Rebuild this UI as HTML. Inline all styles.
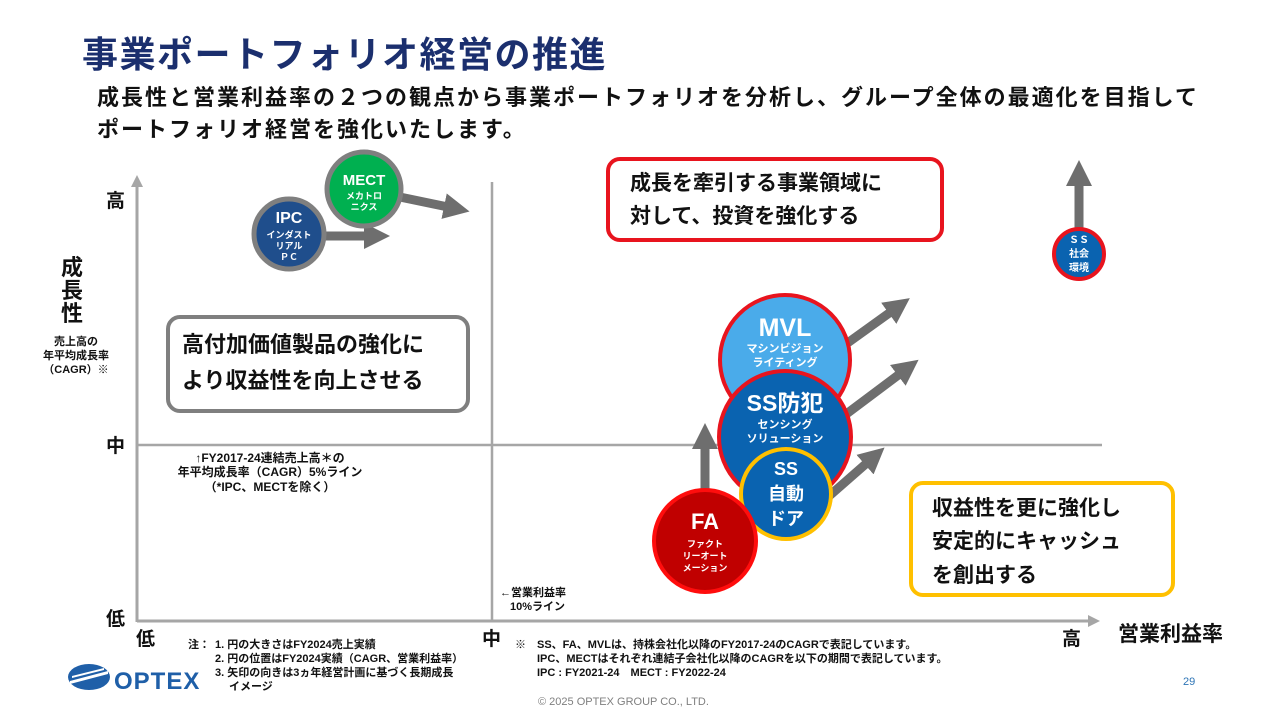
<!DOCTYPE html>
<html><head><meta charset="utf-8"><style>
html,body{margin:0;padding:0;background:#fff;}
svg{display:block;font-family:"Liberation Sans","Noto Sans CJK JP",sans-serif;font-weight:bold;}
</style></head><body>
<svg width="1280" height="720" viewBox="0 0 1280 720" xmlns="http://www.w3.org/2000/svg">
<defs>
<marker id="ah" markerUnits="userSpaceOnUse" markerWidth="26" markerHeight="26" refX="4" refY="13" orient="auto">
<path d="M0,0 L26,13 L0,26 Z" fill="#6e6e6e"/></marker>
<marker id="ax" markerUnits="userSpaceOnUse" markerWidth="12" markerHeight="12" refX="2" refY="6" orient="auto">
<path d="M0,0 L12,6 L0,12 Z" fill="#a6a6a6"/></marker>
</defs>
<text x="82" y="67" font-size="36" letter-spacing="1.5" fill="#1b2f6e">事業ポートフォリオ経営の推進</text>
<text x="97" y="105" font-size="22" letter-spacing="2" fill="#111">成長性と営業利益率の２つの観点から事業ポートフォリオを分析し、グループ全体の最適化を目指して</text>
<text x="97" y="137" font-size="22" letter-spacing="2" fill="#111">ポートフォリオ経営を強化いたします。</text>

<line x1="137" y1="622" x2="137" y2="185" stroke="#a6a6a6" stroke-width="3" marker-end="url(#ax)"/>
<line x1="137" y1="621" x2="1090" y2="621" stroke="#a6a6a6" stroke-width="3" marker-end="url(#ax)"/>
<line x1="492" y1="182" x2="492" y2="621" stroke="#a6a6a6" stroke-width="2.5"/>
<line x1="137" y1="445" x2="1102" y2="445" stroke="#a6a6a6" stroke-width="2.5"/>

<g font-size="19" fill="#111">
<text x="106" y="207">高</text><text x="106" y="452">中</text><text x="106" y="625">低</text>
<text x="136" y="645">低</text><text x="482" y="645">中</text><text x="1062" y="645">高</text>
</g>
<text x="1118" y="641" font-size="21" fill="#111">営業利益率</text>
<g font-size="22" fill="#111" text-anchor="middle">
<text x="72" y="275">成</text><text x="72" y="298">長</text><text x="72" y="321">性</text></g>
<g font-size="11" fill="#111" text-anchor="middle">
<text x="76" y="345">売上高の</text><text x="76" y="359">年平均成長率</text><text x="76" y="373">（CAGR）※</text></g>
<g font-size="12" fill="#111" text-anchor="middle">
<text x="270" y="462">↑FY2017-24連結売上高＊の</text>
<text x="270" y="476">年平均成長率（CAGR）5%ライン</text>
<text x="270" y="491">（*IPC、MECTを除く）</text></g>
<text x="500" y="596" font-size="11" fill="#111">←営業利益率</text>
<text x="510" y="610" font-size="11" fill="#111">10%ライン</text>

<rect x="608" y="159" width="334" height="81" rx="12" fill="#fff" stroke="#e8141e" stroke-width="4"/>
<text x="630" y="190" font-size="21" fill="#111">成長を牽引する事業領域に</text>
<text x="630" y="223" font-size="21" fill="#111">対して、投資を強化する</text>
<rect x="168" y="317" width="300" height="94" rx="12" fill="#fff" stroke="#7f7f7f" stroke-width="4"/>
<text x="182" y="352" font-size="22" fill="#111">高付加価値製品の強化に</text>
<text x="182" y="388" font-size="22" fill="#111">より収益性を向上させる</text>
<rect x="911" y="483" width="262" height="112" rx="12" fill="#fff" stroke="#ffc000" stroke-width="4"/>
<text x="932" y="515" font-size="21" fill="#111">収益性を更に強化し</text>
<text x="932" y="548" font-size="21" fill="#111">安定的にキャッシュ</text>
<text x="932" y="582" font-size="21" fill="#111">を創出する</text>

<g stroke="#6e6e6e" stroke-width="9" marker-end="url(#ah)" fill="none">
<line x1="395" y1="196" x2="448" y2="207"/>
<line x1="320" y1="236" x2="368" y2="236"/>
<line x1="1079" y1="230" x2="1079" y2="182"/>
<line x1="835" y1="352" x2="892" y2="311"/>
<line x1="845" y1="415" x2="901" y2="373"/>
<line x1="828" y1="497" x2="868" y2="462"/>
<line x1="705" y1="492" x2="705" y2="445"/>
</g>

<circle cx="364" cy="189" r="37" fill="#00b050" stroke="#7f7f7f" stroke-width="5"/>
<text x="364" y="185" font-size="15" fill="#fff" text-anchor="middle">MECT</text>
<text x="364" y="199" font-size="9" fill="#fff" text-anchor="middle">メカトロ</text>
<text x="364" y="210" font-size="9" fill="#fff" text-anchor="middle">ニクス</text>
<circle cx="289" cy="234" r="35" fill="#1f4e8c" stroke="#7f7f7f" stroke-width="5"/>
<text x="289" y="223" font-size="16" fill="#fff" text-anchor="middle">IPC</text>
<text x="289" y="238" font-size="9" fill="#fff" text-anchor="middle">インダスト</text>
<text x="289" y="249" font-size="9" fill="#fff" text-anchor="middle">リアル</text>
<text x="289" y="260" font-size="9" fill="#fff" text-anchor="middle">ＰＣ</text>

<circle cx="1079" cy="254" r="25" fill="#0a63b0" stroke="#e8141e" stroke-width="4"/>
<text x="1079" y="243" font-size="10" fill="#fff" text-anchor="middle">ＳＳ</text>
<text x="1079" y="257" font-size="10" fill="#fff" text-anchor="middle">社会</text>
<text x="1079" y="271" font-size="10" fill="#fff" text-anchor="middle">環境</text>

<circle cx="785" cy="360" r="65" fill="#4aabea" stroke="#e8141e" stroke-width="4"/>
<text x="785" y="336" font-size="25" fill="#fff" text-anchor="middle">MVL</text>
<text x="785" y="352" font-size="11" fill="#fff" text-anchor="middle">マシンビジョン</text>
<text x="785" y="366" font-size="11" fill="#fff" text-anchor="middle">ライティング</text>

<circle cx="785" cy="437" r="66" fill="#0a63b0" stroke="#e8141e" stroke-width="4"/>
<text x="785" y="411" font-size="23" fill="#fff" text-anchor="middle">SS防犯</text>
<text x="785" y="428" font-size="11" fill="#fff" text-anchor="middle">センシング</text>
<text x="785" y="442" font-size="11" fill="#fff" text-anchor="middle">ソリューション</text>

<circle cx="786" cy="494" r="45" fill="#0a63b0" stroke="#ffc000" stroke-width="4"/>
<text x="786" y="475" font-size="18" fill="#fff" text-anchor="middle">SS</text>
<text x="786" y="500" font-size="18" fill="#fff" text-anchor="middle">自動</text>
<text x="786" y="525" font-size="18" fill="#fff" text-anchor="middle">ドア</text>

<circle cx="705" cy="541" r="51" fill="#c00000" stroke="#ff0d0d" stroke-width="4"/>
<text x="705" y="529" font-size="22" fill="#fff" text-anchor="middle">FA</text>
<text x="705" y="547" font-size="9" fill="#fff" text-anchor="middle">ファクト</text>
<text x="705" y="559" font-size="9" fill="#fff" text-anchor="middle">リーオート</text>
<text x="705" y="571" font-size="9" fill="#fff" text-anchor="middle">メーション</text>

<g font-size="11" fill="#111">
<text x="188" y="648">注：</text>
<text x="215" y="648">1. 円の大きさはFY2024売上実績</text>
<text x="215" y="662">2. 円の位置はFY2024実績（CAGR、営業利益率）</text>
<text x="215" y="676">3. 矢印の向きは3ヵ年経営計画に基づく長期成長</text>
<text x="229" y="690">イメージ</text>
<text x="515" y="648">※</text>
<text x="537" y="648">SS、FA、MVLは、持株会社化以降のFY2017-24のCAGRで表記しています。</text>
<text x="537" y="662">IPC、MECTはそれぞれ連結子会社化以降のCAGRを以下の期間で表記しています。</text>
<text x="537" y="676">IPC : FY2021-24　MECT : FY2022-24</text>
</g>
<text x="538" y="705" font-size="11" fill="#7f7f7f" font-weight="normal">© 2025 OPTEX GROUP CO., LTD.</text>
<text x="1183" y="685" font-size="11" fill="#2e75b6" font-weight="normal">29</text>

<g>
<ellipse cx="89" cy="677" rx="21" ry="13" fill="#1f5fa8"/>
<path d="M70,681 L108,671 L108,674 L70,684 Z" fill="#fff"/>
<path d="M72,676 L104,668 L104,670 L72,678 Z" fill="#fff"/>
<text x="114" y="689" font-size="24" fill="#1f5fa8" font-weight="bold" letter-spacing="1">OPTEX</text>
</g>
</svg>
</body></html>
